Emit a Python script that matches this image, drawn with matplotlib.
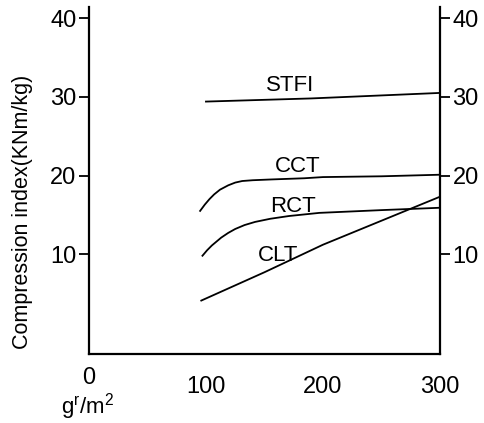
import matplotlib
matplotlib.use("Agg")
import matplotlib.pyplot as plt

plt.rcParams['font.family'] = ['Liberation Sans', 'DejaVu Sans']

# values (grammage g/m2 vs compression index)
stfi_x = [100, 190, 300]
stfi_y = [29.4, 29.8, 30.5]

cct_x = [95, 99, 103, 107, 112, 119, 125, 131, 140, 156, 184, 200, 250, 300]
cct_y = [15.5, 16.3, 17.0, 17.6, 18.2, 18.75, 19.1, 19.3, 19.4, 19.5, 19.65, 19.8, 19.9, 20.1]

rct_x = [97, 101, 105, 113, 119, 125, 133, 142, 155, 171, 197, 250, 300]
rct_y = [9.8, 10.5, 11.1, 12.1, 12.7, 13.2, 13.7, 14.1, 14.5, 14.85, 15.25, 15.6, 15.9]

clt_x = [96, 150, 200, 300]
clt_y = [4.1, 7.7, 11.2, 17.3]

labels = ['STFI', 'CCT', 'RCT', 'CLT']
label_pos = [(172, 31.5), (178, 21.2), (174, 16.0), (162, 9.8)]

x_ticks = [0, 100, 200, 300]
y_ticks = [10, 20, 30, 40]

fig = plt.figure(figsize=(4.85, 4.23), dpi=100)
ax = fig.add_axes([0.1835, 0.163, 0.7235, 0.82])

for xs, ys in [(stfi_x, stfi_y), (cct_x, cct_y), (rct_x, rct_y), (clt_x, clt_y)]:
    ax.plot(xs, ys, color='black', lw=1.3)

for name, (tx, ty) in zip(labels, label_pos):
    ax.text(tx, ty, name, fontsize=16, ha='center', va='center')

ax.set_xlim(0, 300)
ax.set_ylim(-2.7, 41.4)
ax.set_xticks(x_ticks)
ax.set_yticks(y_ticks)
ax.spines['top'].set_visible(False)
for s in ['left', 'right', 'bottom']:
    ax.spines[s].set_linewidth(1.6)
ax.tick_params(axis='x', length=0, pad=16, labelsize=17)
ax.tick_params(axis='y', length=7, width=1.3, pad=2, labelsize=17,
               right=True, labelright=True)
# the "0" sits a little higher than the other x labels
ax.xaxis.get_major_ticks()[0].set_pad(9)

fig.text(23 / 485, 0.499, 'Compression index(KNm/kg)', rotation=90,
         fontsize=15.5, ha='center', va='center')
fig.text(88 / 485, 1 - 407 / 423, r'g$^\mathregular{r}$/m$^\mathregular{2}$',
         fontsize=16, ha='center', va='center')

fig.savefig('out.png', dpi=100)
